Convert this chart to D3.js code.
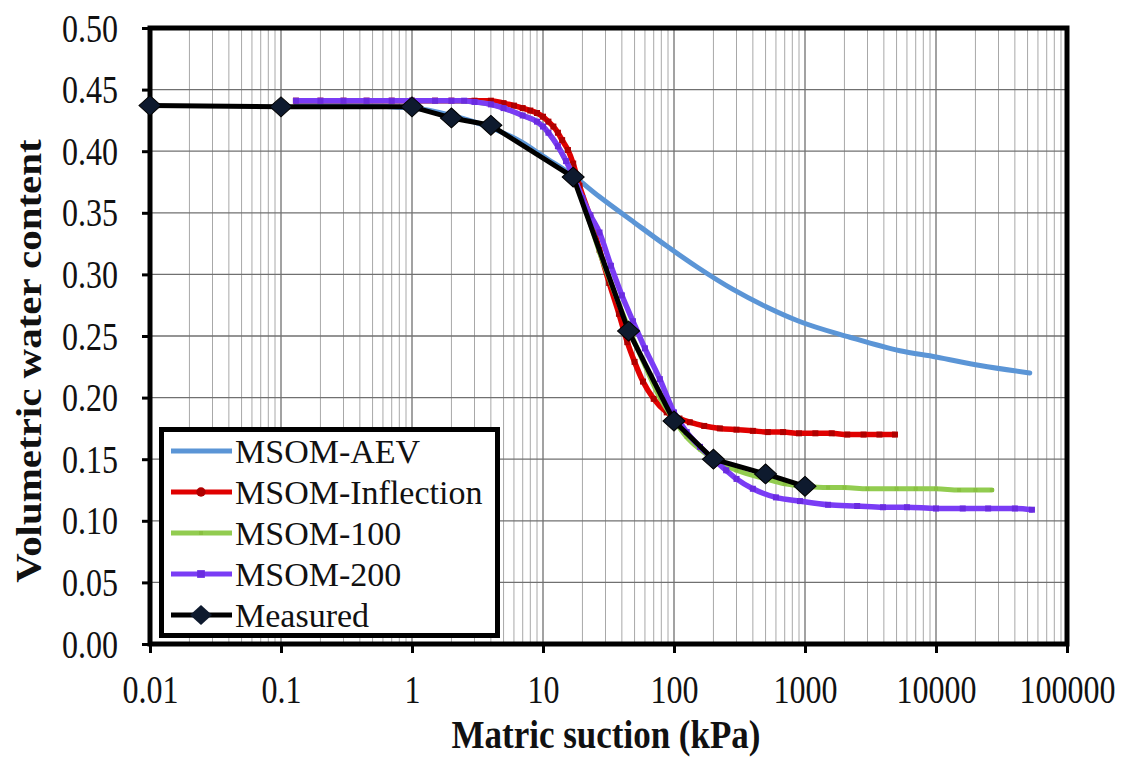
<!DOCTYPE html>
<html>
<head>
<meta charset="utf-8">
<script src="https://cdn.jsdelivr.net/npm/d3@7/dist/d3.min.js"></script>
<style>
  html, body { margin: 0; padding: 0; background: #fff; }
  svg { display: block; }
</style>
</head>
<body>
<svg id="chart" width="1125" height="757"></svg>
<script>
// ---------------- DATA ----------------
const xTickValues = [0.01, 0.1, 1, 10, 100, 1000, 10000, 100000];
const xTickLabels = ["0.01", "0.1", "1", "10", "100", "1000", "10000", "100000"];
const yTickValues = [0, 0.05, 0.10, 0.15, 0.20, 0.25, 0.30, 0.35, 0.40, 0.45, 0.50];

const seriesNames = ["MSOM-AEV", "MSOM-Inflection", "MSOM-100", "MSOM-200", "Measured"];

const suctionAEV = [0.13, 0.3, 1, 2, 4, 7, 10, 17, 27, 50, 88, 150, 280, 500, 900, 2200, 5300, 10000, 21700, 52000];
const thetaAEV   = [0.437, 0.437, 0.435, 0.429, 0.419, 0.407, 0.396, 0.380, 0.363, 0.342, 0.323, 0.306, 0.288, 0.274, 0.262, 0.249, 0.238, 0.233, 0.226, 0.220];

const suctionInf = [0.13, 0.2, 0.3, 0.45, 0.7, 1, 1.5, 2, 3, 4, 5, 6, 7, 8, 9, 10, 11, 12, 13, 14, 15.5, 17, 19, 23, 27, 32, 38, 44, 50, 58, 70, 88, 110, 132, 170, 224, 300, 400, 520, 680, 900, 1200, 1600, 2100, 2800, 3700, 4860];
const thetaInf   = [0.441, 0.441, 0.441, 0.441, 0.441, 0.441, 0.441, 0.441, 0.441, 0.441, 0.439, 0.437, 0.435, 0.433, 0.431, 0.428, 0.424, 0.420, 0.415, 0.409, 0.401, 0.390, 0.372, 0.346, 0.320, 0.293, 0.268, 0.245, 0.229, 0.213, 0.199, 0.188, 0.183, 0.180, 0.177, 0.175, 0.174, 0.173, 0.172, 0.172, 0.171, 0.171, 0.171, 0.170, 0.170, 0.170, 0.170];

const suction100 = [0.13, 0.5, 1, 2, 3, 4, 5, 7, 9, 10, 11, 13, 15, 17, 20, 23, 27, 33, 40, 48.6, 60, 78, 100, 125, 158, 200, 300, 500, 700, 1000, 1500, 2000, 3000, 5000, 7000, 10000, 15000, 20000, 26700];
const theta100   = [0.441, 0.441, 0.441, 0.441, 0.440, 0.438, 0.435, 0.429, 0.424, 0.420, 0.415, 0.404, 0.392, 0.381, 0.360, 0.341, 0.318, 0.293, 0.270, 0.248, 0.226, 0.200, 0.182, 0.168, 0.158, 0.150, 0.141, 0.134, 0.130, 0.128, 0.127, 0.127, 0.126, 0.126, 0.126, 0.126, 0.125, 0.125, 0.125];

const suction200 = [0.13, 0.2, 0.3, 0.45, 0.7, 1, 1.5, 2, 2.5, 3, 4, 5, 7, 9, 10, 11, 13, 15, 17, 20, 23, 27, 33, 40, 48.6, 60, 78, 100, 125, 158, 200, 250, 300, 400, 600, 916, 1500, 2500, 3940, 6000, 10000, 16000, 25000, 40000, 54000];
const theta200   = [0.441, 0.441, 0.441, 0.441, 0.441, 0.441, 0.441, 0.441, 0.441, 0.440, 0.438, 0.435, 0.429, 0.424, 0.420, 0.415, 0.404, 0.392, 0.380, 0.362, 0.348, 0.334, 0.307, 0.283, 0.262, 0.240, 0.215, 0.188, 0.172, 0.160, 0.150, 0.141, 0.134, 0.126, 0.119, 0.116, 0.113, 0.112, 0.111, 0.111, 0.110, 0.110, 0.110, 0.110, 0.109];

const suctionMeasured = [0.01, 0.1, 1, 2, 4, 17, 45, 100, 200, 500, 1000];
const thetaMeasured   = [0.437, 0.436, 0.436, 0.427, 0.421, 0.379, 0.254, 0.181, 0.150, 0.138, 0.128];

// ---------------- CHART ----------------
const FONT = "Liberation Serif";
const svg = d3.select("#chart");
const L = 150, R = 1067, T = 28, B = 644;

const x = d3.scaleLog().domain([0.01, 100000]).range([L, R]);
const y = d3.scaleLinear().domain([0, 0.5]).range([B, T]);

const zip = (xs, ys) => xs.map((v, i) => ({ s: v, t: ys[i] }));

// grid: minor vertical
const minor = [];
for (let e = -2; e < 5; e++) for (let k = 2; k <= 9; k++) minor.push(k * Math.pow(10, e));
svg.append("g").selectAll("line").data(minor).join("line")
  .attr("x1", d => x(d)).attr("x2", d => x(d)).attr("y1", T).attr("y2", B)
  .attr("stroke", "#a8a8a8").attr("stroke-width", 1);
svg.append("g").selectAll("line").data(xTickValues).join("line")
  .attr("x1", d => x(d)).attr("x2", d => x(d)).attr("y1", T).attr("y2", B)
  .attr("stroke", "#707070").attr("stroke-width", 1.3);
svg.append("g").selectAll("line").data(yTickValues).join("line")
  .attr("x1", L).attr("x2", R).attr("y1", d => y(d)).attr("y2", d => y(d))
  .attr("stroke", "#707070").attr("stroke-width", 1.3);

// axes
const xAxis = d3.axisBottom(x).tickValues(xTickValues)
  .tickFormat((d, i) => xTickLabels[i]).tickSize(9).tickSizeOuter(0);
const gx = svg.append("g").attr("transform", `translate(0,${B})`).call(xAxis)
  .attr("font-family", FONT);
gx.select(".domain").remove();
gx.selectAll(".tick line").attr("stroke", "#000").attr("stroke-width", 3);
gx.selectAll(".tick text")
  .attr("y", 0).attr("dy", null)
  .attr("transform", "translate(0,59) scale(1,1.25)")
  .attr("font-size", 32).attr("font-family", FONT).attr("fill", "#111");

const yAxis = d3.axisLeft(y).tickValues(yTickValues).tickFormat(d3.format(".2f")).tickSize(8).tickSizeOuter(0);
const gy = svg.append("g").attr("transform", `translate(${L},0)`).call(yAxis)
  .attr("font-family", FONT);
gy.select(".domain").remove();
gy.selectAll(".tick line").attr("stroke", "#000").attr("stroke-width", 3);
gy.selectAll(".tick text")
  .attr("x", 0).attr("dy", null)
  .attr("transform", "translate(-32,13) scale(1,1.25)")
  .attr("font-size", 32).attr("font-family", FONT).attr("fill", "#111");

// frame
svg.append("rect").attr("x", L).attr("y", T).attr("width", R - L).attr("height", B - T)
  .attr("fill", "none").attr("stroke", "#000").attr("stroke-width", 5);

// titles
svg.append("text").attr("transform", "translate(606,748) scale(1,1.17)")
  .attr("text-anchor", "middle").attr("font-size", 35).attr("font-weight", "bold")
  .attr("font-family", FONT).attr("fill", "#111")
  .text("Matric suction (kPa)");
svg.append("text").attr("transform", "translate(41,361) scale(1,1.17) rotate(-90)")
  .attr("text-anchor", "middle").attr("font-size", 35).attr("font-weight", "bold")
  .attr("font-family", FONT).attr("fill", "#111")
  .text("Volumetric water content");

// series
const line = d3.line().x(d => x(d.s)).y(d => y(d.t)).curve(d3.curveMonotoneX);
const lineStraight = d3.line().x(d => x(d.s)).y(d => y(d.t));

const cfg = [
  { name: seriesNames[0], data: zip(suctionAEV, thetaAEV), color: "#5b95d6", width: 5, marker: null },
  { name: seriesNames[1], data: zip(suctionInf, thetaInf), color: "#e00000", width: 5.5, marker: { fill: "#b00000", size: 36, type: d3.symbolSquare } },
  { name: seriesNames[2], data: zip(suction100, theta100), color: "#92cc50", width: 5, marker: { fill: "#88c040", size: 16, type: d3.symbolSquare } },
  { name: seriesNames[3], data: zip(suction200, theta200), color: "#7a3cf5", width: 5.5, marker: { fill: "#6a2ce0", size: 36, type: d3.symbolSquare } },
];

cfg.forEach(c => {
  const g = svg.append("g");
  g.append("path").datum(c.data).attr("d", line)
    .attr("fill", "none").attr("stroke", c.color).attr("stroke-width", c.width)
    .attr("stroke-linejoin", "round").attr("stroke-linecap", "round");
  if (c.marker) {
    g.selectAll("path.m").data(c.data).join("path").attr("class", "m")
      .attr("transform", d => `translate(${x(d.s)},${y(d.t)})`)
      .attr("d", d3.symbol(c.marker.type, c.marker.size))
      .attr("fill", c.marker.fill);
  }
});

// measured
const meas = zip(suctionMeasured, thetaMeasured);
svg.append("path").datum(meas).attr("d", lineStraight)
  .attr("fill", "none").attr("stroke", "#000").attr("stroke-width", 5).attr("stroke-linejoin", "round");
svg.append("g").selectAll("path").data(meas).join("path")
  .attr("transform", d => `translate(${x(d.s)},${y(d.t)}) scale(1.05,0.95) rotate(45)`)
  .attr("d", d3.symbol(d3.symbolSquare, 220))
  .attr("fill", "#0e1a2e").attr("stroke", "#000").attr("stroke-width", 1);

// legend
const lg = svg.append("g");
lg.append("rect").attr("x", 161.5).attr("y", 429.5).attr("width", 336).attr("height", 206)
  .attr("fill", "#fff").attr("stroke", "#000").attr("stroke-width", 5);
const legendItems = [
  { color: "#5b95d6", mk: null },
  { color: "#e00000", mk: { type: d3.symbolCircle, size: 70, fill: "#b00000" } },
  { color: "#92cc50", mk: { type: d3.symbolSquare, size: 16, fill: "#88c040" } },
  { color: "#7a3cf5", mk: { type: d3.symbolSquare, size: 60, fill: "#6a2ce0" } },
  { color: "#000", mk: "diamond" },
];
legendItems.forEach((it, i) => {
  const cy = 451 + i * 41;
  lg.append("line").attr("x1", 171).attr("x2", 232).attr("y1", cy).attr("y2", cy)
    .attr("stroke", it.color).attr("stroke-width", 5);
  if (it.mk === "diamond") {
    lg.append("path").attr("transform", `translate(201,${cy}) scale(1.05,0.95) rotate(45)`)
      .attr("d", d3.symbol(d3.symbolSquare, 220)).attr("fill", "#0e1a2e");
  } else if (it.mk) {
    lg.append("path").attr("transform", `translate(201,${cy})`)
      .attr("d", d3.symbol(it.mk.type, it.mk.size)).attr("fill", it.mk.fill);
  }
  lg.append("text").attr("x", 235).attr("y", cy + 12).attr("font-size", 34)
    .attr("font-family", FONT).attr("fill", "#111")
    .text(seriesNames[i]);
});
</script>
</body>
</html>
